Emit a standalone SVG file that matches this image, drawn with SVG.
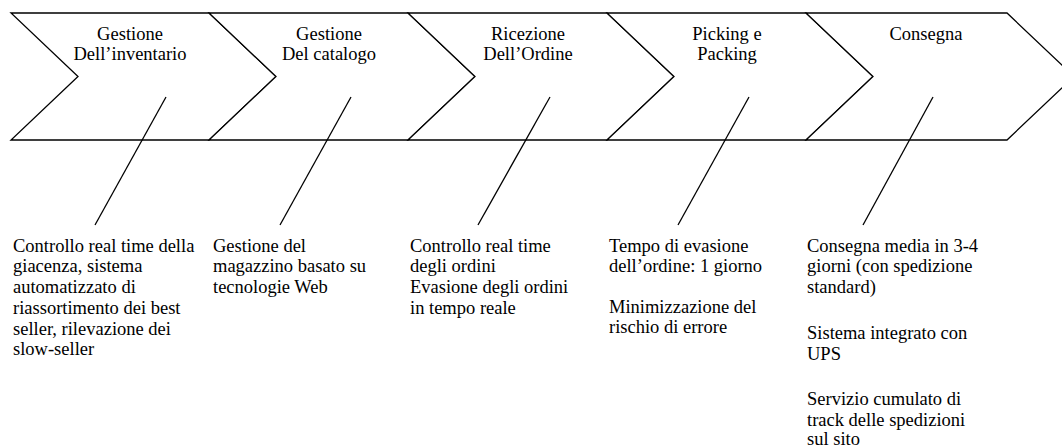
<svg xmlns="http://www.w3.org/2000/svg" width="1062" height="448" viewBox="0 0 1062 448">
<style>
.chev{fill:#fff;stroke:#000;stroke-width:1.3;stroke-linejoin:miter}
.lbl{font-family:'Liberation Serif','DejaVu Serif',serif;font-size:18.5px;fill:#000;text-anchor:middle}
.txt{font-family:'Liberation Serif','DejaVu Serif',serif;font-size:18.5px;fill:#000}
.con{stroke:#000;stroke-width:1.3;fill:none}
</style>
<rect width="1062" height="448" fill="#fff"/>
<g id="node-inventario">
<polygon class="chev" points="11,13 209,13 276,76.5 209,140 11,140 78,76.5"/>
<text class="lbl" x="130" y="39.5">Gestione</text>
<text class="lbl" x="130" y="59.5">Dell’inventario</text>
</g>
<g id="node-catalogo">
<polygon class="chev" points="209,13 408,13 475,76.5 408,140 209,140 276,76.5"/>
<text class="lbl" x="329" y="39.5">Gestione</text>
<text class="lbl" x="329" y="59.5">Del catalogo</text>
</g>
<g id="node-ordine">
<polygon class="chev" points="408,13 607,13 674,76.5 607,140 408,140 475,76.5"/>
<text class="lbl" x="528" y="39.5">Ricezione</text>
<text class="lbl" x="528" y="59.5">Dell’Ordine</text>
</g>
<g id="node-picking">
<polygon class="chev" points="607,13 806,13 873,76.5 806,140 607,140 674,76.5"/>
<text class="lbl" x="727" y="39.5">Picking e</text>
<text class="lbl" x="727" y="59.5">Packing</text>
</g>
<g id="node-consegna">
<polygon class="chev" points="806,13 1007,13 1074,76.5 1007,140 806,140 873,76.5"/>
<text class="lbl" x="926" y="39.5">Consegna</text>
</g>
<g id="connectors">
<line class="con" x1="166" y1="97" x2="95" y2="225"/>
<line class="con" x1="351" y1="97" x2="280" y2="225"/>
<line class="con" x1="550" y1="97" x2="478" y2="225"/>
<line class="con" x1="749" y1="97" x2="678" y2="225"/>
<line class="con" x1="933" y1="97" x2="863" y2="225"/>
</g>
<g id="desc-inventario">
<text class="txt" x="13" y="251.7">Controllo real time della</text>
<text class="txt" x="13" y="272.4">giacenza, sistema</text>
<text class="txt" x="13" y="293.1">automatizzato di</text>
<text class="txt" x="13" y="313.8">riassortimento dei best</text>
<text class="txt" x="13" y="334.5">seller, rilevazione dei</text>
<text class="txt" x="13" y="355.2">slow-seller</text>
</g>
<g id="desc-catalogo">
<text class="txt" x="213" y="251.7">Gestione del</text>
<text class="txt" x="213" y="272.4">magazzino basato su</text>
<text class="txt" x="213" y="293.1">tecnologie Web</text>
</g>
<g id="desc-ordine">
<text class="txt" x="410" y="251.7">Controllo real time</text>
<text class="txt" x="410" y="272.4">degli ordini</text>
<text class="txt" x="410" y="293.1">Evasione degli ordini</text>
<text class="txt" x="410" y="313.8">in tempo reale</text>
</g>
<g id="desc-picking">
<text class="txt" x="609" y="251.7">Tempo di evasione</text>
<text class="txt" x="609" y="272.4">dell’ordine: 1 giorno</text>
<text class="txt" x="609" y="312.7">Minimizzazione del</text>
<text class="txt" x="609" y="333.4">rischio di errore</text>
</g>
<g id="desc-consegna">
<text class="txt" x="807" y="251.7">Consegna media in 3-4</text>
<text class="txt" x="807" y="272.4">giorni (con spedizione</text>
<text class="txt" x="807" y="293.1">standard)</text>
<text class="txt" x="807" y="339">Sistema integrato con</text>
<text class="txt" x="807" y="359.7">UPS</text>
<text class="txt" x="807" y="405">Servizio cumulato di</text>
<text class="txt" x="807" y="425.5">track delle spedizioni</text>
<text class="txt" x="807" y="445">sul sito</text>
</g>
</svg>
